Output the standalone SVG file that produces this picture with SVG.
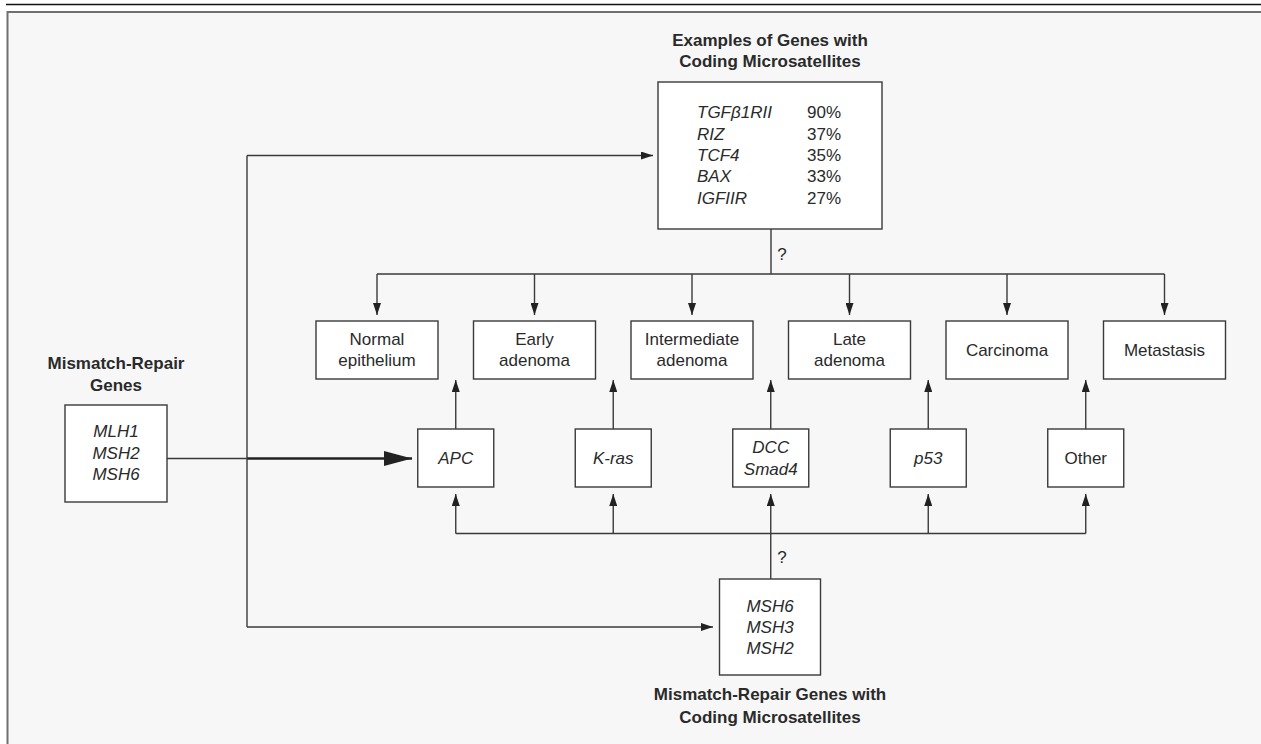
<svg xmlns="http://www.w3.org/2000/svg" width="1261" height="744" viewBox="0 0 1261 744">
<style>
.box{fill:#ffffff;stroke:#3a3a3a;stroke-width:1.4}
.ln{fill:none;stroke:#3a3a3a;stroke-width:1.4}
.thick{fill:none;stroke:#222;stroke-width:2.6}
.t{font-family:"Liberation Sans",Arial,sans-serif;font-size:17px;fill:#2a2a2a;text-anchor:middle}
.i{font-style:italic}
.b{font-weight:bold;fill:#2a2a2a}
.l{text-anchor:start}
</style>
<defs>
<marker id="ah" markerUnits="userSpaceOnUse" markerWidth="12" markerHeight="8" refX="12" refY="4" orient="auto">
<path d="M0,0 L12,4 L0,8 z" fill="#222"/>
</marker>
<marker id="ahBig" markerUnits="userSpaceOnUse" markerWidth="28" markerHeight="15" refX="28" refY="7.5" orient="auto">
<path d="M0,0 L28,7.5 L0,15 z" fill="#222"/>
</marker>
</defs>
<rect x="0" y="0" width="1261" height="744" fill="#ffffff"/>
<line x1="6" y1="4.5" x2="1261" y2="4.5" stroke="#111" stroke-width="1.6"/>
<rect x="7.5" y="12" width="1300" height="800" fill="#f7f7f7" stroke="#707070" stroke-width="2"/>

<g id="connectors">
<polyline class="ln" points="167,458.5 247,458.5"/>
<line class="thick" x1="247" y1="458.5" x2="412" y2="458.5" marker-end="url(#ahBig)"/>
<polyline class="ln" points="247,155.5 247,627"/>
<line class="ln" x1="247" y1="155.5" x2="653" y2="155.5" marker-end="url(#ah)"/>
<line class="ln" x1="247" y1="627" x2="713" y2="627" marker-end="url(#ah)"/>
<line class="ln" x1="771" y1="229" x2="771" y2="274"/>
<line class="ln" x1="377" y1="274" x2="1164.5" y2="274"/>
<line class="ln" x1="377" y1="274" x2="377" y2="315" marker-end="url(#ah)"/>
<line class="ln" x1="534.5" y1="274" x2="534.5" y2="315" marker-end="url(#ah)"/>
<line class="ln" x1="692" y1="274" x2="692" y2="315" marker-end="url(#ah)"/>
<line class="ln" x1="849.5" y1="274" x2="849.5" y2="315" marker-end="url(#ah)"/>
<line class="ln" x1="1007" y1="274" x2="1007" y2="315" marker-end="url(#ah)"/>
<line class="ln" x1="1164.5" y1="274" x2="1164.5" y2="315" marker-end="url(#ah)"/>
<line class="ln" x1="455.75" y1="429" x2="455.75" y2="380" marker-end="url(#ah)"/>
<line class="ln" x1="613.25" y1="429" x2="613.25" y2="380" marker-end="url(#ah)"/>
<line class="ln" x1="770.75" y1="429" x2="770.75" y2="380" marker-end="url(#ah)"/>
<line class="ln" x1="928.25" y1="429" x2="928.25" y2="380" marker-end="url(#ah)"/>
<line class="ln" x1="1085.75" y1="429" x2="1085.75" y2="380" marker-end="url(#ah)"/>
<line class="ln" x1="455.75" y1="533.5" x2="1085.75" y2="533.5"/>
<line class="ln" x1="455.75" y1="533.5" x2="455.75" y2="494" marker-end="url(#ah)"/>
<line class="ln" x1="613.25" y1="533.5" x2="613.25" y2="494" marker-end="url(#ah)"/>
<line class="ln" x1="770.75" y1="579" x2="770.75" y2="494" marker-end="url(#ah)"/>
<line class="ln" x1="928.25" y1="533.5" x2="928.25" y2="494" marker-end="url(#ah)"/>
<line class="ln" x1="1085.75" y1="533.5" x2="1085.75" y2="494" marker-end="url(#ah)"/>
<text class="t" x="782" y="260">?</text>
<text class="t" x="782" y="563">?</text>
</g>

<g id="mmr">
<text class="t b" x="116" y="369">Mismatch-Repair</text>
<text class="t b" x="116" y="391">Genes</text>
<rect class="box" x="65" y="405" width="102" height="97"/>
<text class="t i" x="116" y="437">MLH1</text>
<text class="t i" x="116" y="459">MSH2</text>
<text class="t i" x="116" y="480">MSH6</text>
</g>

<g id="coding-genes">
<text class="t b" x="770" y="46">Examples of Genes with</text>
<text class="t b" x="770" y="67">Coding Microsatellites</text>
<rect class="box" x="658" y="82" width="224" height="147"/>
<text class="t i l" x="697" y="118">TGFβ1RII</text>
<text class="t i l" x="697" y="139.5">RIZ</text>
<text class="t i l" x="697" y="161">TCF4</text>
<text class="t i l" x="697" y="182">BAX</text>
<text class="t i l" x="697" y="203.5">IGFIIR</text>
<text class="t l" x="807" y="118">90%</text>
<text class="t l" x="807" y="139.5">37%</text>
<text class="t l" x="807" y="161">35%</text>
<text class="t l" x="807" y="182">33%</text>
<text class="t l" x="807" y="203.5">27%</text>
</g>

<g id="normal">
<rect class="box" x="316" y="321" width="122" height="58"/>
<text class="t" x="377" y="345">Normal</text>
<text class="t" x="377" y="366">epithelium</text>
</g>
<g id="early">
<rect class="box" x="473.5" y="321" width="122" height="58"/>
<text class="t" x="534.5" y="345">Early</text>
<text class="t" x="534.5" y="366">adenoma</text>
</g>
<g id="intermediate">
<rect class="box" x="631" y="321" width="122" height="58"/>
<text class="t" x="692" y="345">Intermediate</text>
<text class="t" x="692" y="366">adenoma</text>
</g>
<g id="late">
<rect class="box" x="788.5" y="321" width="122" height="58"/>
<text class="t" x="849.5" y="345">Late</text>
<text class="t" x="849.5" y="366">adenoma</text>
</g>
<g id="carcinoma">
<rect class="box" x="946" y="321" width="122" height="58"/>
<text class="t" x="1007" y="356">Carcinoma</text>
</g>
<g id="metastasis">
<rect class="box" x="1103.5" y="321" width="122" height="58"/>
<text class="t" x="1164.5" y="356">Metastasis</text>
</g>

<g id="apc">
<rect class="box" x="417.75" y="429" width="76" height="58"/>
<text class="t i" x="455.75" y="464">APC</text>
</g>
<g id="kras">
<rect class="box" x="575.25" y="429" width="76" height="58"/>
<text class="t i" x="613.25" y="464">K-ras</text>
</g>
<g id="dcc">
<rect class="box" x="732.75" y="429" width="76" height="58"/>
<text class="t i" x="770.75" y="453">DCC</text>
<text class="t i" x="770.75" y="475">Smad4</text>
</g>
<g id="p53">
<rect class="box" x="890.25" y="429" width="76" height="58"/>
<text class="t i" x="928.25" y="464">p53</text>
</g>
<g id="other">
<rect class="box" x="1047.75" y="429" width="76" height="58"/>
<text class="t" x="1085.75" y="464">Other</text>
</g>

<g id="mmr-coding">
<rect class="box" x="719.5" y="579" width="101" height="96"/>
<text class="t i" x="770" y="612">MSH6</text>
<text class="t i" x="770" y="633">MSH3</text>
<text class="t i" x="770" y="654">MSH2</text>
<text class="t b" x="770" y="700">Mismatch-Repair Genes with</text>
<text class="t b" x="770" y="723">Coding Microsatellites</text>
</g>
</svg>
